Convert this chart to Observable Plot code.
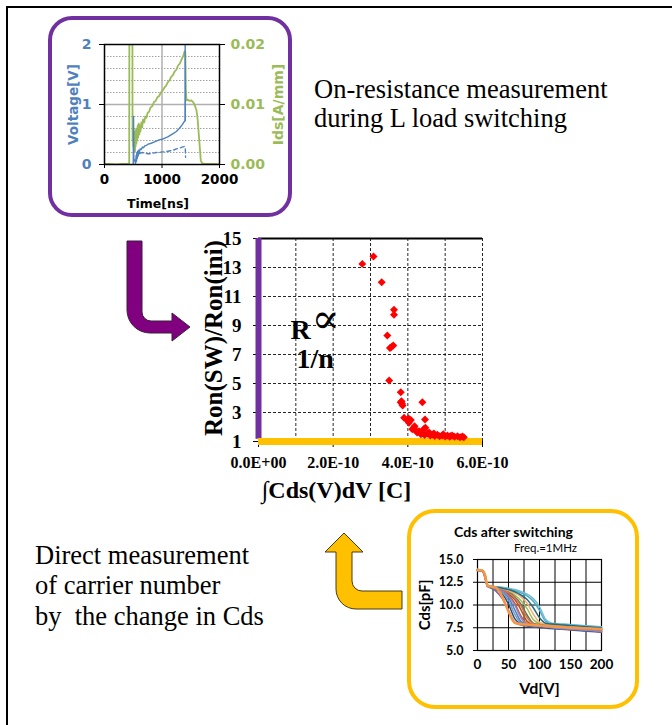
<!DOCTYPE html>
<html>
<head>
<meta charset="utf-8">
<script src="https://cdn.jsdelivr.net/npm/d3@7"></script>
<script src="https://cdn.jsdelivr.net/npm/@observablehq/plot@0.6"></script>
<style>
  html, body { margin: 0; padding: 0; background: #fff; }
  #page { position: relative; width: 672px; height: 725px; overflow: hidden; background: #fff; }
  #page > svg { position: absolute; }
</style>
</head>
<body>
<div id="page"></div>
<script>
// ---------- Main chart: Ron(SW)/Ron(ini) versus integrated Cds charge ----------
const ronCharge = [2.78e-10, 3.08e-10, 3.30e-10, 3.63e-10, 3.63e-10, 3.45e-10, 3.56e-10, 3.61e-10, 3.52e-10, 3.50e-10,
  3.81e-10, 3.83e-10, 3.86e-10, 3.81e-10, 4.39e-10, 3.90e-10, 3.99e-10, 4.08e-10, 4.03e-10, 4.46e-10,
  4.16e-10, 4.21e-10, 4.30e-10, 4.43e-10, 4.39e-10, 4.52e-10, 4.66e-10, 4.79e-10, 4.92e-10, 5.06e-10,
  5.19e-10, 5.33e-10, 5.46e-10, 5.50e-10, 4.25e-10, 4.35e-10, 4.45e-10, 4.60e-10, 4.72e-10, 4.85e-10,
  5.00e-10, 5.12e-10, 5.25e-10, 5.40e-10, 4.12e-10, 4.47e-10, 4.57e-10, 4.70e-10, 4.95e-10, 5.15e-10,
  3.84e-10, 4.02e-10, 4.18e-10];
const ronRatio = [13.25, 13.76, 11.99, 10.08, 9.74, 8.31, 7.51, 7.62, 7.44, 5.21,
  4.40, 3.78, 3.48, 3.71, 3.71, 2.63, 2.45, 2.49, 2.30, 2.52,
  1.94, 1.76, 1.71, 1.87, 1.57, 1.53, 1.48, 1.46, 1.41, 1.41,
  1.41, 1.37, 1.34, 1.30, 1.62, 1.50, 1.45, 1.42, 1.38, 1.36,
  1.35, 1.33, 1.32, 1.30, 1.85, 1.95, 1.62, 1.55, 1.50, 1.38,
  3.62, 2.58, 2.05];
const ronTicks = [1, 3, 5, 7, 9, 11, 13, 15];
const chargeTicks = [0, 2e-10, 4e-10, 6e-10];
const chargeTickLabels = ["0.0E+00", "2.0E-10", "4.0E-10", "6.0E-10"];
const chargeGrid = [1e-10, 2e-10, 3e-10, 4e-10, 5e-10, 6e-10];
const ronGrid = [3, 5, 7, 9, 11, 13];

// ---------- Inset: voltage and current during L-load switching ----------
const vOnTime = [500, 505, 510, 540, 550, 556, 562, 570, 578, 585, 595, 605, 620, 640, 660, 680, 700, 730, 760, 800,
  850, 900, 950, 1000, 1050, 1100, 1150, 1200, 1250, 1300, 1350, 1390, 1400, 1403, 1406];
const vOnVolt = [0, 0.8, 0.1, 0.02, 0.15, 0.05, 0.2, 0.1, 0.22, 0.14, 0.24, 0.2, 0.26, 0.25, 0.29, 0.28, 0.31, 0.32, 0.34, 0.35,
  0.37, 0.39, 0.41, 0.42, 0.44, 0.46, 0.49, 0.52, 0.55, 0.6, 0.66, 0.72, 0.73, 2.0, 0.73];
const vRefTime = [610, 650, 700, 750, 800, 850, 900, 950, 1000, 1050, 1100, 1150, 1200, 1250, 1300, 1350, 1390, 1405, 1410];
const vRefVolt = [0.18, 0.2, 0.19, 0.18, 0.18, 0.19, 0.2, 0.2, 0.21, 0.21, 0.22, 0.23, 0.24, 0.26, 0.27, 0.29, 0.3, 0.28, 0.12];
const idsTime = [0, 100, 200, 300, 400, 430, 433, 485, 488, 495, 500, 505, 510, 515, 520, 525, 530, 535, 540, 548,
  555, 562, 570, 578, 585, 595, 605, 615, 625, 640, 655, 670, 690, 710, 730, 750, 775, 800, 830, 860,
  890, 920, 950, 980, 1010, 1040, 1070, 1100, 1130, 1160, 1190, 1220, 1250, 1280, 1310, 1340, 1370, 1395, 1405, 1415,
  1425, 1450, 1480, 1510, 1540, 1560, 1580, 1600, 1620, 1640, 1660, 1675, 1700, 1750, 1800, 1900, 2000];
const idsCurrent = [0.0001, 0.0001, 0, 0.0001, 0.0001, 0.0002, 0.025, 0.025, 0.004, 0.0065, 0.003, 0.006, 0.0025, 0.0055, 0.003, 0.005, 0.0022, 0.0052, 0.003, 0.0058,
  0.0035, 0.006, 0.004, 0.0065, 0.0045, 0.0068, 0.005, 0.0065, 0.0055, 0.007, 0.0062, 0.0075, 0.007, 0.008, 0.0078, 0.0086, 0.0088, 0.0095, 0.0097, 0.0104,
  0.0106, 0.0112, 0.0114, 0.012, 0.0123, 0.0128, 0.0131, 0.0137, 0.014, 0.0146, 0.0149, 0.0155, 0.0158, 0.0165, 0.0168, 0.0175, 0.0181, 0.0189, 0.0188, 0.0125,
  0.0107, 0.0108, 0.0106, 0.0107, 0.0104, 0.0101, 0.0096, 0.009, 0.0075, 0.005, 0.0025, 0.0006, 0.0002, 0.0001, 0.0001, 0.0001, 0];
const timeTicks = [0, 1000, 2000];
const voltTicks = [0, 1, 2];
const idsTickLabels = ["0.00", "0.01", "0.02"];
const voltMinorGrid = [0.2, 0.4, 0.6, 0.8, 1.2, 1.4, 1.6, 1.8];

// ---------- Inset: Cds(Vd) after switching, 1 MHz ----------
const vd = [0, 8, 12, 16, 20, 30, 40, 50, 60, 70, 80, 90, 100, 110, 120, 140, 170, 200];
const cdsColors = ["#8064A2", "#2C4D75", "#4F81BD", "#C0504D", "#729ACA", "#B65708", "#9983B5", "#9BBB59",
  "#5F7530", "#CD7371", "#F9AB6B", "#4BACC6", "#6FBDD1", "#276A7C", "#F79646"];
const cdsCurves = [
  [13.8, 13.7, 13.0, 12.05, 11.9, 11.5, 10.7, 9.4, 8.1, 7.8, 7.7, 7.6, 7.5, 7.45, 7.4, 7.3, 7.15, 7.0],
  [13.85, 13.75, 13.2, 12.1, 11.95, 11.7, 11.2, 10.1, 8.5, 7.9, 7.75, 7.65, 7.55, 7.5, 7.45, 7.35, 7.2, 7.05],
  [13.8, 13.7, 13.1, 12.1, 12.0, 11.8, 11.5, 10.8, 9.5, 8.2, 7.85, 7.75, 7.7, 7.6, 7.55, 7.45, 7.3, 7.15],
  [13.85, 13.75, 13.2, 12.1, 12.0, 11.85, 11.6, 11.1, 10.2, 8.8, 7.95, 7.8, 7.75, 7.65, 7.6, 7.5, 7.35, 7.2],
  [13.8, 13.7, 13.0, 12.05, 11.95, 11.75, 11.4, 10.5, 9.0, 8.0, 7.8, 7.7, 7.65, 7.6, 7.5, 7.4, 7.25, 7.1],
  [13.85, 13.75, 13.2, 12.1, 12.0, 11.85, 11.6, 11.2, 10.6, 9.5, 8.2, 7.85, 7.8, 7.7, 7.65, 7.55, 7.4, 7.25],
  [13.8, 13.7, 13.1, 12.1, 12.0, 11.8, 11.55, 11.0, 10.0, 8.6, 7.9, 7.75, 7.7, 7.6, 7.55, 7.45, 7.3, 7.1],
  [13.9, 13.8, 13.3, 12.15, 12.05, 11.9, 11.75, 11.5, 11.1, 10.5, 9.6, 8.4, 7.95, 7.85, 7.8, 7.7, 7.5, 7.35],
  [13.85, 13.75, 13.2, 12.1, 12.0, 11.85, 11.7, 11.4, 10.9, 10.1, 8.9, 8.0, 7.85, 7.8, 7.7, 7.6, 7.45, 7.3],
  [13.85, 13.75, 13.2, 12.1, 12.0, 11.9, 11.7, 11.35, 10.8, 9.9, 8.6, 7.95, 7.8, 7.75, 7.7, 7.6, 7.45, 7.3],
  [13.9, 13.8, 13.3, 12.15, 12.05, 11.9, 11.8, 11.6, 11.3, 10.9, 10.2, 9.0, 8.1, 7.9, 7.85, 7.75, 7.6, 7.45],
  [13.9, 13.8, 13.35, 12.2, 12.1, 12.0, 11.9, 11.8, 11.6, 11.35, 11.0, 10.4, 9.4, 8.2, 7.95, 7.85, 7.7, 7.55],
  [13.9, 13.8, 13.35, 12.2, 12.1, 12.0, 11.95, 11.85, 11.7, 11.5, 11.2, 10.7, 9.8, 8.4, 8.0, 7.9, 7.75, 7.6],
  [13.85, 13.75, 13.3, 12.15, 12.05, 11.95, 11.85, 11.7, 11.45, 11.1, 10.6, 9.7, 8.6, 8.0, 7.9, 7.8, 7.65, 7.5],
  [13.85, 13.8, 13.3, 12.15, 12.05, 11.9, 10.9, 9.3, 8.05, 7.9, 7.85, 7.8, 7.75, 7.7, 7.65, 7.55, 7.45, 7.35]
];
const vdTicks = [0, 50, 100, 150, 200];
const vdGrid = [0, 25, 50, 75, 100, 125, 150, 175, 200];
const cdsTicks = [5, 7.5, 10, 12.5, 15];

// ---------- Build tables ----------
const ronTable = ronCharge.map((q, i) => ({q, r: ronRatio[i]}));
const vOnTable = vOnTime.map((t, i) => ({t, v: vOnVolt[i]}));
const vRefTable = vRefTime.map((t, i) => ({t, v: vRefVolt[i]}));
const idsTable = idsTime.map((t, i) => ({t, a: idsCurrent[i]}));
const cdsTable = cdsCurves.flatMap((c, k) => c.map((y, i) => ({series: k, vd: vd[i], c: y})));

const page = document.getElementById("page");
const serif = "'Liberation Serif', 'Times New Roman', serif";
const blue = "#4F81BD", green = "#9BBB59";

function place(svg, left, top) {
  svg.style.left = left + "px";
  svg.style.top = top + "px";
  page.appendChild(svg);
}

// Main scatter
const main = Plot.plot({
  width: 330, height: 290,
  marginLeft: 68, marginRight: 38, marginTop: 13, marginBottom: 74,
  style: {fontFamily: serif, background: "transparent", overflow: "visible", color: "#000"},
  x: {domain: [0, 6e-10]},
  y: {domain: [1, 15]},
  marks: [
    Plot.gridX(chargeGrid, {stroke: "#000", strokeOpacity: 0.85, strokeDasharray: "3,2"}),
    Plot.gridY(ronGrid, {stroke: "#000", strokeOpacity: 0.85, strokeDasharray: "3,2"}),
    Plot.ruleY([15], {stroke: "#000", strokeWidth: 2}),
    Plot.axisY(ronTicks, {tickSize: 5, tickPadding: 12, fontSize: 19, fontWeight: "bold", label: null, tickFormat: d => String(d)}),
    Plot.axisX(chargeTicks, {tickSize: 6, tickPadding: 9, fontSize: 16, fontWeight: "bold", label: null,
      tickFormat: d => chargeTickLabels[chargeTicks.indexOf(d)]}),
    Plot.ruleX([0], {y1: 1.15, y2: 15, stroke: "#7030A0", strokeWidth: 6}),
    Plot.ruleY([1], {x1: 0, x2: 6e-10, stroke: "#FFC000", strokeWidth: 7}),
    Plot.dot(ronTable, {x: "q", y: "r", symbol: "diamond2", r: 3.6, fill: "#FF0000"}),
    Plot.text(["Ron(SW)/Ron(ini)"], {frameAnchor: "left", textAnchor: "middle", lineAnchor: "middle", dx: -45, dy: -2, rotate: -90, fontSize: 25, fontWeight: "bold"}),
    Plot.text(["\u222BCds(V)dV [C]"], {frameAnchor: "bottom", textAnchor: "middle", lineAnchor: "middle", dx: -34, dy: 49, fontSize: 24, fontWeight: "bold"}),
    Plot.text(["R"], {frameAnchor: "top-left", dx: 32, dy: 92, textAnchor: "start", lineAnchor: "middle", fontSize: 28, fontWeight: "bold"}),
    Plot.text(["\u221D"], {frameAnchor: "top-left", dx: 53, dy: 81, textAnchor: "start", lineAnchor: "middle",
      fontSize: 42, fontFamily: "'DejaVu Serif', 'DejaVu Sans', serif"}),
    Plot.text(["1/n"], {frameAnchor: "top-left", dx: 38, dy: 121, textAnchor: "start", lineAnchor: "middle", fontSize: 28, fontWeight: "bold"})
  ]
});
place(main, 190, 225);

// Switching waveform inset (current plotted against the right axis, 0.02 A/mm = 2 V)
const wave = Plot.plot({
  width: 250, height: 205,
  marginLeft: 59, marginRight: 76, marginTop: 29, marginBottom: 56,
  style: {fontFamily: "'DejaVu Sans', Verdana, sans-serif", background: "transparent", overflow: "visible", color: "#000"},
  x: {domain: [0, 2000]},
  y: {domain: [0, 2]},
  marks: [
    Plot.gridY(voltMinorGrid, {stroke: "#8c8c8c", strokeOpacity: 1, strokeWidth: 0.8, strokeDasharray: "1.5,1.5"}),
    Plot.gridY([1], {stroke: "#b0b0b0", strokeOpacity: 1, strokeWidth: 1.5}),
    Plot.gridX([1000], {stroke: "#b0b0b0", strokeOpacity: 1, strokeWidth: 1.5}),
    Plot.line(idsTable, {x: "t", y: d => d.a * 100, stroke: green, strokeWidth: 1.8, clip: true}),
    Plot.line(vRefTable, {x: "t", y: "v", stroke: blue, strokeWidth: 1.4, strokeDasharray: "4,3"}),
    Plot.line(vOnTable, {x: "t", y: "v", stroke: blue, strokeWidth: 1.4, clip: true}),
    Plot.frame({stroke: "#000", strokeWidth: 1.5}),
    Plot.axisY(voltTicks, {anchor: "left", tickSize: 5, tickPadding: 8, color: blue, stroke: "#000", fontSize: 14, fontWeight: "bold", label: null,
      tickFormat: d => String(d)}),
    Plot.axisY(voltTicks, {anchor: "right", tickSize: 5, tickPadding: 6, color: green, stroke: "#000", fontSize: 14, fontWeight: "bold", label: null,
      tickFormat: d => idsTickLabels[voltTicks.indexOf(d)]}),
    Plot.axisX(timeTicks, {tickSize: 4, tickPadding: 6, fontSize: 13.5, fontWeight: "bold", label: null, tickFormat: d => String(d)}),
    Plot.text(["Voltage[V]"], {frameAnchor: "left", textAnchor: "middle", lineAnchor: "middle", dx: -31, rotate: -90, fill: blue, fontSize: 13.5, fontWeight: "bold"}),
    Plot.text(["Ids[A/mm]"], {frameAnchor: "right", textAnchor: "middle", lineAnchor: "middle", dx: 59, rotate: -90, fill: green, fontSize: 14, fontWeight: "bold"}),
    Plot.text(["Time[ns]"], {frameAnchor: "bottom", textAnchor: "middle", lineAnchor: "middle", dx: -4, dy: 39, fontSize: 12.5, fontWeight: "bold"})
  ]
});
place(wave, 45, 15);

// Cds after switching inset
const cds = Plot.plot({
  width: 240, height: 215,
  marginLeft: 77, marginRight: 39, marginTop: 54, marginBottom: 70,
  style: {fontFamily: "Lato, 'Open Sans', sans-serif", background: "transparent", overflow: "visible", color: "#000"},
  x: {domain: [0, 200]},
  y: {domain: [5, 15]},
  color: {type: "ordinal", domain: d3.range(cdsColors.length), range: cdsColors},
  marks: [
    Plot.gridX(vdGrid, {stroke: "#000", strokeOpacity: 1, strokeWidth: 1}),
    Plot.gridY(cdsTicks, {stroke: "#000", strokeOpacity: 1, strokeWidth: 1}),
    Plot.frame({stroke: "#000", strokeWidth: 1.2}),
    Plot.line(cdsTable.filter(d => d.series < cdsCurves.length - 1),
      {x: "vd", y: "c", z: "series", stroke: "series", strokeWidth: 1.5, curve: "monotone-x"}),
    Plot.line(cdsTable.filter(d => d.series === cdsCurves.length - 1),
      {x: "vd", y: "c", stroke: "series", strokeWidth: 2.6, curve: "monotone-x"}),
    Plot.axisY(cdsTicks, {tickSize: 4, tickPadding: 10, fontSize: 12.5, fontWeight: "bold", label: null, tickFormat: d => d.toFixed(1)}),
    Plot.axisX(vdTicks, {tickSize: 0, tickPadding: 9, fontSize: 13.5, fontWeight: "bold", label: null, tickFormat: d => String(d)}),
    Plot.text(["Cds after switching"], {frameAnchor: "top", textAnchor: "middle", lineAnchor: "middle", dx: -26, dy: -27, fontSize: 14, fontWeight: "bold"}),
    Plot.text(["Freq.=1MHz"], {frameAnchor: "top", textAnchor: "middle", lineAnchor: "middle", dx: 6, dy: -11, fontSize: 11.5}),
    Plot.text(["Vd[V]"], {frameAnchor: "bottom", textAnchor: "middle", lineAnchor: "middle", dy: 38, fontSize: 16, fontWeight: "bold"}),
    Plot.text(["Cds[pF]"], {frameAnchor: "left", textAnchor: "middle", lineAnchor: "middle", dx: -52, rotate: -90, fontSize: 15, fontWeight: "bold"})
  ]
});
place(cds, 400, 505);

// Panel frames, connecting arrows and captions
const decor = document.createElementNS("http://www.w3.org/2000/svg", "svg");
decor.setAttribute("width", 672);
decor.setAttribute("height", 725);
decor.style.left = "0px";
decor.style.top = "0px";
decor.style.pointerEvents = "none";
decor.innerHTML = `
  <rect x="7" y="7" width="700" height="740" fill="none" stroke="#000" stroke-width="2"/>
  <rect x="50" y="18" width="240" height="197" rx="22" fill="none" stroke="#7030A0" stroke-width="4"/>
  <rect x="409" y="511" width="228" height="196" rx="26" fill="none" stroke="#FFC000" stroke-width="4"/>
  <path d="M127,241 L142,241 L142,312 A9,9 0 0 0 151,321 L172,321 L172,313 L190,327 L172,341 L172,333 L150,333 A23,23 0 0 1 127,310 Z"
        fill="#800080" stroke="#3b1d3f" stroke-width="1"/>
  <path d="M336,552 L336,589 A20,20 0 0 0 356,609 L402,609 L402,591 L362,591 A10,10 0 0 1 352,581 L352,552 L363,552 L344,533 L325,552 Z"
        fill="#FFC000" stroke="#4a3b12" stroke-width="1"/>
  <g font-family="'Liberation Serif', 'Times New Roman', serif" font-size="26.5" fill="#000">
    <text x="314" y="98">On-resistance measurement</text>
    <text x="314" y="127">during L load switching</text>
    <text x="35" y="564">Direct measurement</text>
    <text x="35" y="594">of carrier number</text>
    <text x="35" y="625">by\u00A0 the change in Cds</text>
  </g>`;
page.appendChild(decor);
</script>
</body>
</html>
